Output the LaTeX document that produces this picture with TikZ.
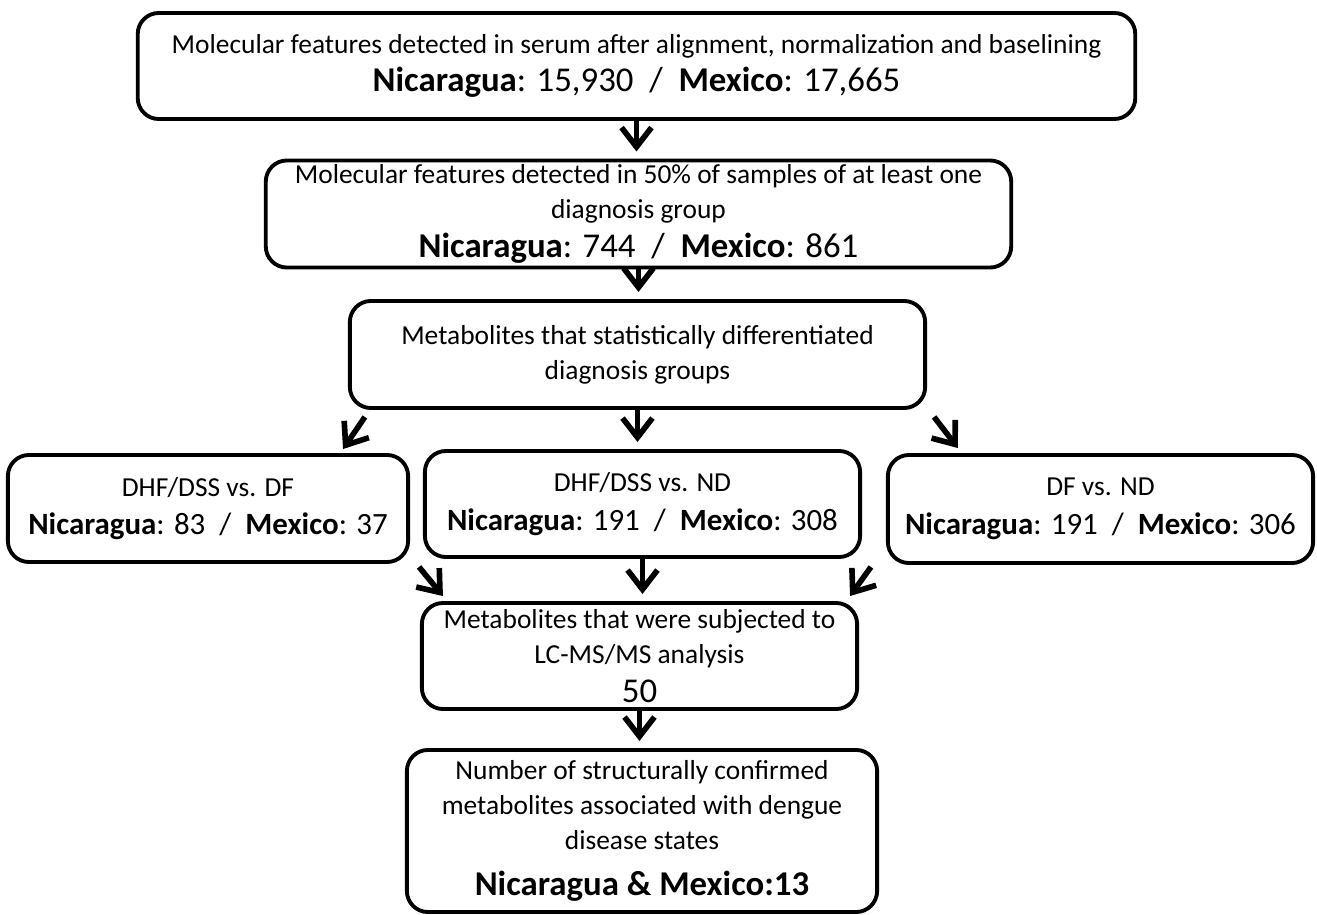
\documentclass[tikz,border=0pt]{standalone}
\usepackage{fontspec}
\setmainfont{Carlito}
\usetikzlibrary{arrows.meta,calc}
\tikzset{
  box/.style={draw, line width=1.1pt, rounded corners=6pt, align=center, inner sep=0pt,
    font=\fontsize{7.8}{10}\selectfont},
  arr/.style={line width=1.6pt, -{Straight Barb[length=5.5pt,width=8.5pt,line width=1.6pt]}}
}
\newcommand{\bigline}[1]{{\fontsize{9.9}{12}\selectfont #1}}
\newcommand{\midline}[1]{{\fontsize{8.8}{11}\selectfont #1}}
\begin{document}
\begin{tikzpicture}[x=0.01cm,y=-0.01cm]
			\useasboundingbox (0,0) rectangle (1317,915);
			\node	(a) at (636.5,66) [box, minimum width=9.97cm, minimum height=1.06cm] {Molecular features detected in serum after alignment, normalization and baselining\\[1pt] \bigline{\textbf{Nicaragua}: 15,930\ \ /\ \ \textbf{Mexico}: 17,665}};
			\node	(b) at (638.5,214) [box, minimum width=7.45cm, minimum height=1.07cm] {Molecular features detected in 50\% of samples of at least one\\ diagnosis group\\[1pt] \bigline{\textbf{Nicaragua}: 744\ \ /\ \ \textbf{Mexico}: 861}};
			\node	(c) at (637.5,354.5) [box, minimum width=5.75cm, minimum height=1.07cm] {Metabolites that statistically differentiated\\ diagnosis groups};
			\node	(d) at (208,508.5) [box, minimum width=4cm, minimum height=1.07cm] {DHF/DSS vs. DF\\[1pt] \midline{\textbf{Nicaragua}: 83\ \ /\ \ \textbf{Mexico}: 37}};
			\node	(e) at (642.5,504) [box, minimum width=4.35cm, minimum height=1.06cm] {DHF/DSS vs. ND\\[1pt] \midline{\textbf{Nicaragua}: 191\ \ /\ \ \textbf{Mexico}: 308}};
			\node	(f) at (1100.5,509) [box, minimum width=4.25cm, minimum height=1.08cm] {DF vs. ND\\[1pt] \midline{\textbf{Nicaragua}: 191\ \ /\ \ \textbf{Mexico}: 306}};
			\node	(g) at (639.5,656) [box, minimum width=4.35cm, minimum height=1.06cm] {Metabolites that were subjected to\\ LC-MS/MS analysis\\[1pt] \bigline{50}};
			\node	(h) at (642,831) [box, minimum width=4.7cm, minimum height=1.62cm] {Number of structurally confirmed\\ metabolites associated with dengue\\ disease states\\[3pt] \bigline{\textbf{Nicaragua \& Mexico:13}}};
			% ends of the slanted arrows
			\coordinate (cd) at ($(c.south west)+(17,7)$);
			\coordinate (dc) at ($(d.north east)+(-67,-4)$);
			\coordinate (cf) at ($(c.south east)+(7,7)$);
			\coordinate (fc) at ($(f.north west)+(72,-5)$);
			\coordinate (dg) at ($(d.south east)+(9,3)$);
			\coordinate (gd) at ($(g.north west)+(23,-5)$);
			\coordinate (fg) at ($(f.south west)+(-15,2)$);
			\coordinate (gf) at ($(g.north east)+(-9,-5)$);
			\draw[shorten >=2pt]
			(a.south) edge[arr] (a.south |- b.north)
			(b.south) edge[arr] (b.south |- c.north)
			(c.south) edge[arr] (c.south |- e.north)
			(e.south) edge[arr] (e.south |- g.north)
			(g.south) edge[arr] (g.south |- h.north)
			;
			\draw
			(cd) edge[arr] (dc)
			(cf) edge[arr] (fc)
			(dg) edge[arr] (gd)
			(fg) edge[arr] (gf)
			;
		\end{tikzpicture}
\end{document}
